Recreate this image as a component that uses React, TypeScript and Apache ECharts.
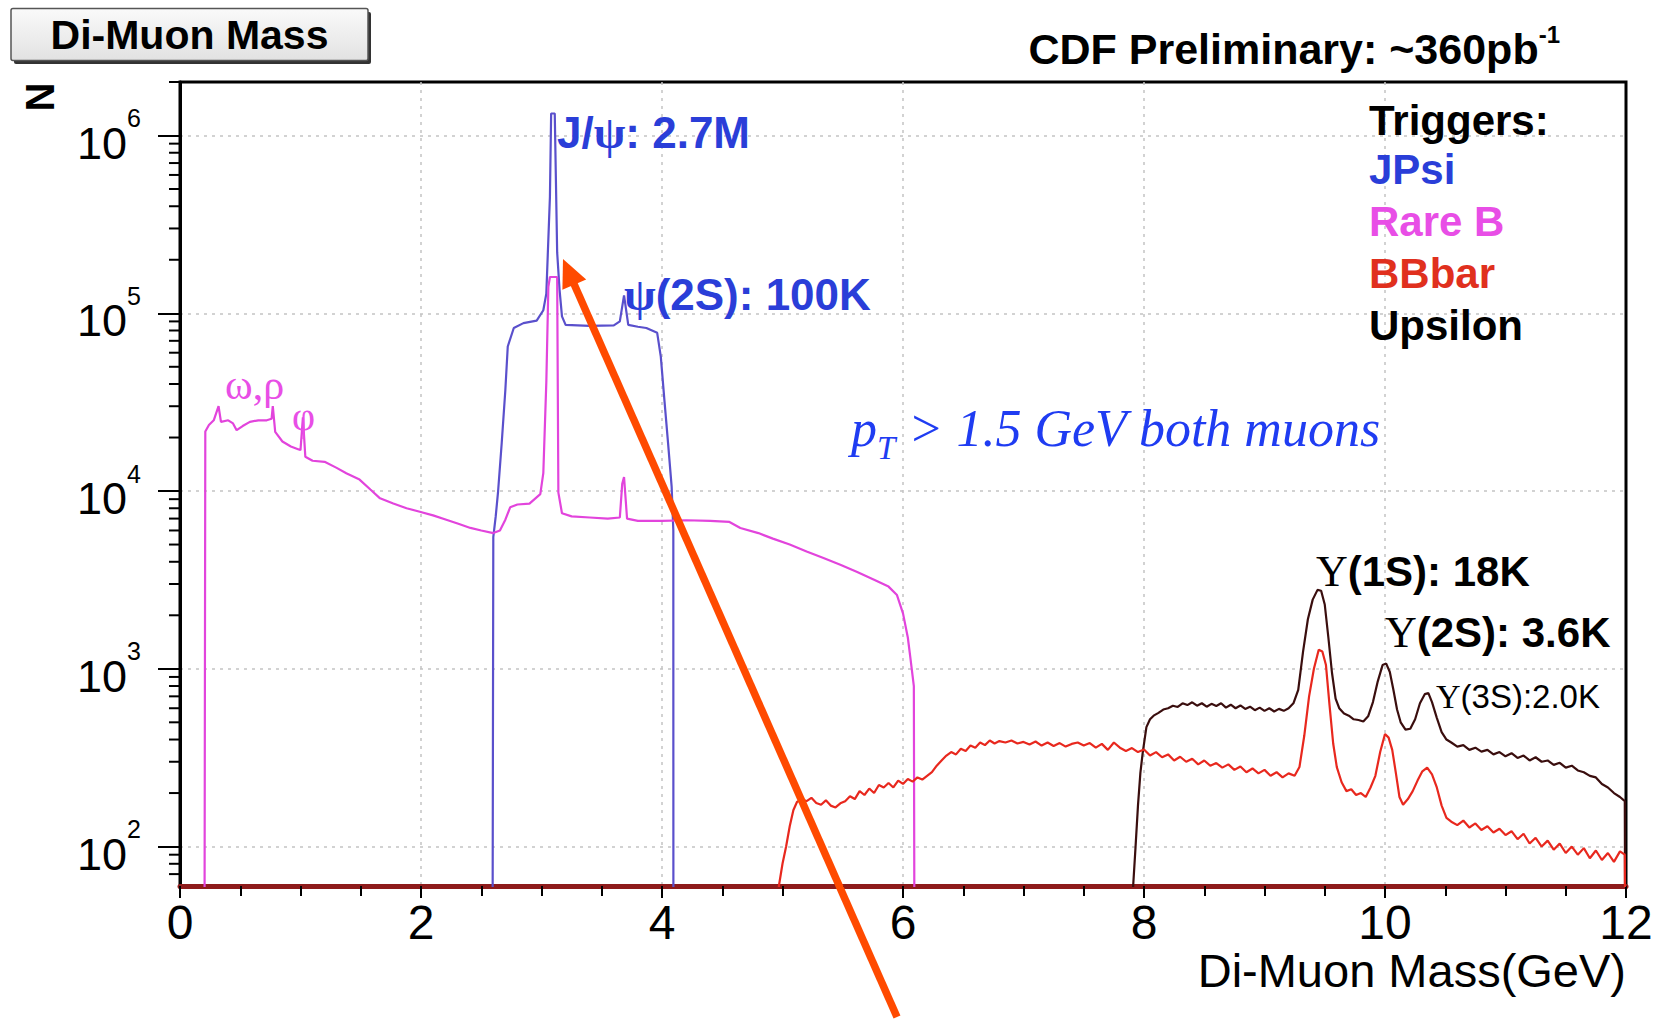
import React, { useEffect, useRef } from "react";
import * as echarts from "echarts";

const SANS = '"Liberation Sans", Arial, Helvetica, sans-serif';
const SERIF = '"Liberation Serif", "Times New Roman", serif';

// axis ranges
const xMin = 0;
const xMax = 12;
const xStep = 2;
const yMin = 60;
const yMax = 2e6;
const yDecadeExponents = [2, 3, 4, 5, 6];
const yMinorTicks = [
  70, 80, 90,
  200, 300, 400, 500, 600, 700, 800, 900,
  2000, 3000, 4000, 5000, 6000, 7000, 8000, 9000,
  20000, 30000, 40000, 50000, 60000, 70000, 80000, 90000,
  200000, 300000, 400000, 500000, 600000, 700000, 800000, 900000,
  2000000,
];
const xTitle = "Di-Muon Mass(GeV)";
const yTitle = "N";

// JPsi trigger
const jpsiMass = [2.59, 2.6, 2.62, 2.64, 2.67, 2.7, 2.72, 2.77, 2.85, 2.96, 3.015, 3.04, 3.07, 3.08, 3.11, 3.13, 3.15, 3.17, 3.2, 3.4, 3.6, 3.65, 3.685, 3.72, 3.8, 3.87, 3.96, 3.99, 4.02, 4.05, 4.08, 4.094, 4.095];
const jpsiCounts = [1, 5500, 7200, 10000, 18700, 37000, 65000, 82600, 88000, 91000, 104000, 129000, 452000, 1330000, 1330000, 220000, 135000, 96000, 86000, 85000, 85500, 90000, 126000, 86000, 84000, 82600, 77600, 57000, 32500, 18700, 10600, 6000, 1];

// Rare B trigger
const rareBMass = [0.2, 0.21, 0.24, 0.28, 0.32, 0.34, 0.4, 0.44, 0.47, 0.52, 0.58, 0.65, 0.72, 0.76, 0.77, 0.79, 0.85, 0.92, 0.98, 1.0, 1.02, 1.04, 1.1, 1.2, 1.3, 1.38, 1.49, 1.58, 1.66, 1.77, 1.88, 1.99, 2.1, 2.21, 2.31, 2.41, 2.5, 2.6, 2.655, 2.7, 2.74, 2.8, 2.9, 2.99, 3.015, 3.04, 3.057, 3.07, 3.13, 3.14, 3.17, 3.25, 3.4, 3.55, 3.65, 3.67, 3.685, 3.71, 3.8, 4.0, 4.2, 4.4, 4.56, 4.65, 4.8, 4.92, 5.06, 5.2, 5.34, 5.48, 5.62, 5.76, 5.88, 5.95, 6.0, 6.04, 6.06, 6.09, 6.1];
const rareBCounts = [1, 21600, 23500, 25000, 30000, 24500, 25000, 24000, 22000, 23200, 24500, 25000, 25000, 25500, 30000, 21500, 19000, 17800, 17200, 17000, 26000, 15600, 14800, 14600, 13500, 12600, 11600, 10200, 9100, 8500, 8000, 7650, 7300, 6900, 6550, 6200, 6000, 5800, 6000, 6900, 8100, 8400, 8500, 9600, 12600, 41000, 141000, 160000, 160000, 9800, 7500, 7200, 7100, 7000, 7100, 11000, 12000, 7000, 6800, 6800, 6850, 6800, 6700, 6200, 5800, 5400, 5000, 4570, 4200, 3850, 3500, 3170, 2900, 2600, 2050, 1500, 1170, 800, 1];

// BBbar trigger
const bbbarMass = [4.95, 4.97, 5.0, 5.03, 5.06, 5.09, 5.12, 5.16, 5.2, 5.24, 5.28, 5.32, 5.36, 5.4, 5.44, 5.48, 5.52, 5.56, 5.6, 5.64, 5.68, 5.72, 5.76, 5.8, 5.84, 5.88, 5.92, 5.96, 6.0, 6.04, 6.08, 6.12, 6.16, 6.2, 6.24, 6.28, 6.32, 6.36, 6.4, 6.44, 6.48, 6.52, 6.56, 6.6, 6.64, 6.68, 6.72, 6.76, 6.8, 6.85, 6.9, 6.95, 7.0, 7.05, 7.1, 7.15, 7.2, 7.25, 7.3, 7.35, 7.4, 7.45, 7.5, 7.55, 7.6, 7.65, 7.7, 7.75, 7.8, 7.85, 7.9, 7.95, 8.0, 8.05, 8.1, 8.15, 8.2, 8.25, 8.3, 8.35, 8.4, 8.45, 8.5, 8.55, 8.6, 8.65, 8.7, 8.75, 8.8, 8.85, 8.9, 8.95, 9.0, 9.05, 9.1, 9.15, 9.2, 9.25, 9.29, 9.33, 9.37, 9.41, 9.45, 9.48, 9.51, 9.54, 9.57, 9.6, 9.64, 9.68, 9.72, 9.76, 9.8, 9.84, 9.88, 9.92, 9.96, 10.0, 10.03, 10.06, 10.09, 10.12, 10.15, 10.19, 10.23, 10.27, 10.31, 10.35, 10.39, 10.43, 10.47, 10.51, 10.55, 10.6, 10.65, 10.7, 10.75, 10.8, 10.85, 10.9, 10.95, 11.0, 11.05, 11.1, 11.15, 11.2, 11.25, 11.3, 11.35, 11.4, 11.45, 11.5, 11.55, 11.6, 11.65, 11.7, 11.75, 11.8, 11.85, 11.9, 11.95, 11.99, 12.0];
const bbbarCounts = [1, 60, 80, 100, 130, 160, 178, 185, 180, 188, 176, 172, 182, 170, 166, 175, 180, 192, 185, 205, 195, 212, 200, 222, 215, 228, 215, 235, 225, 240, 232, 245, 238, 250, 262, 285, 305, 325, 340, 330, 355, 345, 370, 360, 385, 372, 395, 380, 392, 385, 395, 380, 388, 375, 390, 370, 385, 368, 382, 365, 378, 385, 370, 382, 360, 378, 350, 385, 360, 345, 358, 340, 352, 325, 340, 318, 330, 305, 320, 300, 312, 290, 305, 285, 295, 278, 290, 270, 282, 262, 275, 258, 270, 250, 262, 245, 258, 250, 280, 420, 700, 1000, 1280, 1250, 1050, 620, 380, 280, 230, 205, 210, 195, 200, 190, 215, 250, 340, 430, 410, 350, 260, 190, 172, 185, 205, 235, 265, 278, 255, 215, 170, 145, 138, 132, 140, 128, 135, 124, 130, 120, 126, 116, 122, 110, 118, 104, 112, 100, 108, 96, 104, 92, 100, 90, 98, 86, 95, 84, 92, 82, 94, 90, 1];

// Upsilon trigger
const upsilonMass = [7.9, 7.91, 7.93, 7.95, 7.97, 7.99, 8.02, 8.05, 8.08, 8.12, 8.16, 8.2, 8.24, 8.28, 8.32, 8.36, 8.4, 8.44, 8.48, 8.52, 8.56, 8.6, 8.64, 8.68, 8.72, 8.76, 8.8, 8.84, 8.88, 8.92, 8.96, 9.0, 9.04, 9.08, 9.12, 9.16, 9.2, 9.24, 9.28, 9.32, 9.36, 9.4, 9.44, 9.47, 9.5, 9.53, 9.56, 9.59, 9.62, 9.66, 9.7, 9.74, 9.78, 9.82, 9.86, 9.9, 9.94, 9.98, 10.01, 10.04, 10.07, 10.1, 10.13, 10.17, 10.21, 10.25, 10.29, 10.33, 10.36, 10.39, 10.43, 10.47, 10.51, 10.55, 10.6, 10.65, 10.7, 10.75, 10.8, 10.85, 10.9, 10.95, 11.0, 11.05, 11.1, 11.15, 11.2, 11.25, 11.3, 11.35, 11.4, 11.45, 11.5, 11.55, 11.6, 11.65, 11.7, 11.75, 11.8, 11.85, 11.9, 11.95, 11.99, 12.0];
const upsilonCounts = [1, 60, 100, 170, 260, 340, 470, 520, 545, 565, 590, 600, 620, 610, 640, 625, 648, 620, 640, 612, 635, 618, 640, 605, 628, 600, 622, 595, 612, 585, 605, 580, 600, 575, 595, 580, 600, 640, 760, 1250, 1900, 2450, 2780, 2750, 2300, 1500, 950, 680, 600, 560, 545, 520, 515, 505, 540, 650, 850, 1050, 1070, 960, 760, 590, 500, 455, 460, 520, 640, 720, 730, 650, 530, 440, 400, 385, 365, 372, 350, 360, 342, 350, 330, 340, 322, 335, 315, 325, 305, 318, 300, 305, 288, 296, 278, 285, 268, 262, 250, 245, 225, 215, 200, 190, 180, 1];

const BLUE_LINE = "#5a50cc";
const MAGENTA_LINE = "#e244dc";
const RED_LINE = "#e8281e";
const BLACK_LINE = "#3a0e0e";
const BLUE_TXT = "#2a3ed8";
const MAGENTA_TXT = "#e84ee6";
const RED_TXT = "#e0301e";
const ITALIC_BLUE = "#1f3cf2";

function pairs(xs: number[], ys: number[]) {
  return xs.map((x, i) => [x, ys[i]]);
}

export default function App() {
  const ref = useRef<HTMLDivElement>(null);

  useEffect(() => {
    if (!ref.current) return;
    const chart = echarts.init(ref.current, undefined, { renderer: "svg" });

    const lineSeries = (name: string, xs: number[], ys: number[], color: string, z: number) => ({
      name,
      type: "line",
      data: pairs(xs, ys),
      symbol: "none",
      showSymbol: false,
      z,
      clip: true,
      lineStyle: { color, width: 2.2 },
      itemStyle: { color },
      emphasis: { disabled: true },
    });

    const tail = [897, 1017];
    const tip = [563, 259];
    const dx = tip[0] - tail[0];
    const dy = tip[1] - tail[1];
    const len = Math.sqrt(dx * dx + dy * dy);
    const ux = dx / len;
    const uy = dy / len;
    const headL = 28;
    const headW = 13;
    const bx = tip[0] - ux * headL;
    const by = tip[1] - uy * headL;

    const gridLine = { show: true, showMinLine: false, showMaxLine: false, lineStyle: { color: "#c4c4c4", type: [3, 5], width: 1.5 } };

    chart.setOption({
      animation: false,
      backgroundColor: "#ffffff",
      grid: {
        left: 180,
        right: 32,
        top: 82,
        bottom: 134,
        containLabel: false,
        outerBoundsMode: "none",
        show: true,
        borderColor: "#000",
        borderWidth: 3,
        backgroundColor: "transparent",
      },
      legend: {
        orient: "vertical",
        left: 1364,
        top: 143,
        padding: 0,
        itemGap: 0,
        itemWidth: 0,
        itemHeight: 0,
        icon: "rect",
        selectedMode: false,
        textStyle: { fontSize: 42, fontWeight: "bold", fontFamily: SANS, lineHeight: 52 },
        data: [
          { name: "JPsi", textStyle: { color: BLUE_TXT } },
          { name: "Rare B", textStyle: { color: MAGENTA_TXT } },
          { name: "BBbar", textStyle: { color: RED_TXT } },
          { name: "Upsilon", textStyle: { color: "#000" } },
        ],
      },
      xAxis: {
        type: "value",
        min: xMin,
        max: xMax,
        interval: xStep,
        axisLine: { show: true, onZero: false, lineStyle: { color: "#8e1b1b", width: 5 } },
        axisTick: { show: true, length: 12, lineStyle: { color: "#000", width: 2 } },
        minorTick: { show: true, splitNumber: 4, length: 10, lineStyle: { color: "#000", width: 2 } },
        axisLabel: { fontSize: 48, fontFamily: SANS, color: "#000", margin: 12 },
        splitLine: gridLine,
      },
      yAxis: {
        type: "log",
        logBase: 10,
        min: yMin,
        max: yMax,
        axisLine: { show: true, lineStyle: { color: "#000", width: 3 } },
        axisTick: { show: true, length: 22, lineStyle: { color: "#000", width: 2 } },
        axisLabel: {
          margin: 39,
          showMinLabel: false,
          showMaxLabel: false,
          formatter: (v: number) => {
            const e = Math.log10(v);
            const r = Math.round(e);
            if (Math.abs(e - r) > 1e-6 || yDecadeExponents.indexOf(r) < 0) return "";
            return `{h| }{b|10}{s|${r}}`;
          },
          rich: {
            h: { fontSize: 2, lineHeight: 60, verticalAlign: "middle" },
            b: { fontSize: 45, fontFamily: SANS, color: "#000", lineHeight: 48, verticalAlign: "bottom" },
            s: { fontSize: 25, fontFamily: SANS, color: "#000", lineHeight: 27, verticalAlign: "top" },
          },
        },
        splitLine: gridLine,
      },
      series: [
        lineSeries("JPsi", jpsiMass, jpsiCounts, BLUE_LINE, 3),
        lineSeries("Rare B", rareBMass, rareBCounts, MAGENTA_LINE, 4),
        lineSeries("Upsilon", upsilonMass, upsilonCounts, BLACK_LINE, 5),
        lineSeries("BBbar", bbbarMass, bbbarCounts, RED_LINE, 6),
        {
          type: "custom",
          silent: true,
          clip: false,
          z: 10,
          data: yMinorTicks.map((v) => [xMin, v]),
          encode: { x: 0, y: 1 },
          renderItem: (_params: any, api: any) => {
            const p = api.coord([api.value(0), api.value(1)]);
            return {
              type: "line",
              shape: { x1: p[0] - 11, y1: p[1], x2: p[0], y2: p[1] },
              style: { stroke: "#000", lineWidth: 2 },
            };
          },
        },
      ],
      graphic: [
        {
          type: "rect",
          z: 20,
          shape: { x: 14, y: 12, width: 357, height: 52, r: 2 },
          style: { fill: "#333" },
        },
        {
          type: "rect",
          z: 21,
          shape: { x: 11, y: 8.5, width: 357, height: 52, r: 2 },
          style: {
            fill: new echarts.graphic.LinearGradient(0, 0, 0, 1, [
              { offset: 0, color: "#fafafa" },
              { offset: 1, color: "#e2e2e2" },
            ]),
            stroke: "#555",
            lineWidth: 1.5,
          },
        },
        {
          type: "text",
          z: 22,
          style: {
            x: 189.5,
            y: 35,
            text: "Di-Muon Mass",
            font: `bold 41px ${SANS}`,
            fill: "#000",
            align: "center",
            verticalAlign: "middle",
          },
        },
        {
          type: "text",
          z: 22,
          style: {
            x: 1560,
            y: 46,
            text: "{a|CDF Preliminary: ~360pb}{s|-1}",
            align: "right",
            verticalAlign: "middle",
            rich: {
              a: { font: `bold 43px ${SANS}`, fill: "#000", lineHeight: 48, verticalAlign: "bottom" },
              s: { font: `bold 24px ${SANS}`, fill: "#000", lineHeight: 26, verticalAlign: "top" },
            },
          },
        },
        {
          type: "text",
          z: 22,
          style: {
            x: 1626,
            y: 970,
            text: xTitle,
            font: `47px ${SANS}`,
            fill: "#000",
            align: "right",
            verticalAlign: "middle",
          },
        },
        {
          type: "text",
          z: 22,
          x: 40,
          y: 97,
          rotation: Math.PI / 2,
          style: {
            x: 0,
            y: 0,
            text: yTitle,
            font: `bold 40px ${SANS}`,
            fill: "#000",
            align: "center",
            verticalAlign: "middle",
          },
        },
        {
          type: "text",
          z: 22,
          style: {
            x: 1369,
            y: 120,
            text: "Triggers:",
            font: `bold 42px ${SANS}`,
            fill: "#000",
            align: "left",
            verticalAlign: "middle",
          },
        },
        {
          type: "text",
          z: 22,
          style: {
            x: 557,
            y: 132,
            text: "{a|J/}{g|ψ}{a|: 2.7M}",
            verticalAlign: "middle",
            rich: {
              a: { font: `bold 44px ${SANS}`, fill: BLUE_TXT },
              g: { font: `bold 46px ${SERIF}`, fill: BLUE_TXT },
            },
          },
        },
        {
          type: "text",
          z: 22,
          style: {
            x: 624,
            y: 294,
            text: "{g|ψ}{a|(2S): 100K}",
            verticalAlign: "middle",
            rich: {
              a: { font: `bold 44px ${SANS}`, fill: BLUE_TXT },
              g: { font: `bold 46px ${SERIF}`, fill: BLUE_TXT },
            },
          },
        },
        {
          type: "text",
          z: 22,
          style: {
            x: 225,
            y: 385,
            text: "ω,ρ",
            font: `42px ${SERIF}`,
            fill: MAGENTA_TXT,
            verticalAlign: "middle",
          },
        },
        {
          type: "text",
          z: 22,
          style: {
            x: 292,
            y: 416,
            text: "φ",
            font: `40px ${SERIF}`,
            fill: MAGENTA_TXT,
            verticalAlign: "middle",
          },
        },
        {
          type: "text",
          z: 22,
          style: {
            x: 851,
            y: 433,
            text: "{p|p}{t|T}{p| > 1.5 GeV both muons}",
            verticalAlign: "middle",
            rich: {
              p: { font: `italic 52px ${SERIF}`, fill: ITALIC_BLUE, lineHeight: 62, verticalAlign: "top" },
              t: { font: `italic 33px ${SERIF}`, fill: ITALIC_BLUE, lineHeight: 34, verticalAlign: "bottom" },
            },
          },
        },
        {
          type: "text",
          z: 22,
          style: {
            x: 1316,
            y: 571,
            text: "{g|Υ}{a|(1S): 18K}",
            verticalAlign: "middle",
            rich: {
              a: { font: `bold 42px ${SANS}`, fill: "#000" },
              g: { font: `44px ${SERIF}`, fill: "#000" },
            },
          },
        },
        {
          type: "text",
          z: 22,
          style: {
            x: 1385,
            y: 632,
            text: "{g|Υ}{a|(2S): 3.6K}",
            verticalAlign: "middle",
            rich: {
              a: { font: `bold 42px ${SANS}`, fill: "#000" },
              g: { font: `44px ${SERIF}`, fill: "#000" },
            },
          },
        },
        {
          type: "text",
          z: 22,
          style: {
            x: 1436,
            y: 696,
            text: "{g|Υ}{a|(3S):2.0K}",
            verticalAlign: "middle",
            rich: {
              a: { font: `33px ${SANS}`, fill: "#000" },
              g: { font: `34px ${SERIF}`, fill: "#000" },
            },
          },
        },
        {
          type: "line",
          z: 100,
          shape: { x1: tail[0], y1: tail[1], x2: bx + ux * 2, y2: by + uy * 2 },
          style: { stroke: "#ff4a00", lineWidth: 7.5 },
        },
        {
          type: "polygon",
          z: 100,
          shape: {
            points: [
              [tip[0], tip[1]],
              [bx - uy * headW, by + ux * headW],
              [bx + uy * headW, by - ux * headW],
            ],
          },
          style: { fill: "#ff4a00" },
        },
      ],
    });

    return () => chart.dispose();
  }, []);

  return (
    <div
      ref={ref}
      style={{ position: "absolute", left: 0, top: 0, width: 1658, height: 1020 }}
    />
  );
}
